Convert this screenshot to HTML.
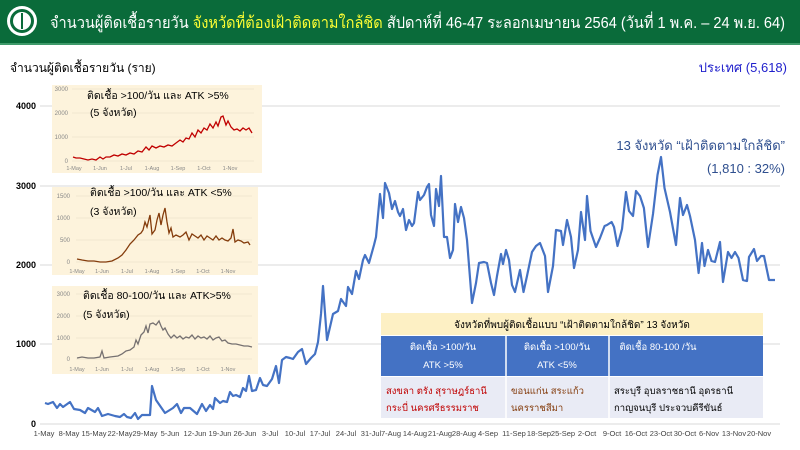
<!DOCTYPE html>
<html><head><meta charset="utf-8"><style>
body{margin:0;width:800px;height:450px;overflow:hidden;background:#fff;font-family:"Liberation Sans","Noto Sans CJK SC",sans-serif;}
.hdr{position:absolute;left:0;top:0;width:800px;height:43px;background:#0a6b3a;border-bottom:2px solid #3f9a6a;}
</style></head><body>
<div class="hdr"></div>
<svg style="position:absolute;left:0;top:0" width="800" height="450" font-family="Liberation Sans, Noto Sans CJK SC, sans-serif">
<circle cx="22" cy="21" r="15" fill="#fff"/><circle cx="22" cy="21" r="12" fill="#0a6b3a"/><circle cx="22" cy="21" r="9" fill="#fff"/>
<line x1="22" y1="13" x2="22" y2="29" stroke="#0a6b3a" stroke-width="2"/>
<text x="50" y="28" font-size="16" fill="#fff" textLength="735" lengthAdjust="spacingAndGlyphs">จำนวนผู้ติดเชื้อรายวัน <tspan fill="#ffff33">จังหวัดที่ต้องเฝ้าติดตามใกล้ชิด</tspan> สัปดาห์ที่ 46-47 ระลอกเมษายน 2564 (วันที่ 1 พ.ค. – 24 พ.ย. 64)</text>
<text x="10" y="72" font-size="12" fill="#000">จำนวนผู้ติดเชื้อรายวัน (ราย)</text>
<text x="787" y="72" font-size="13" fill="#1f1fcc" text-anchor="end">ประเทศ (5,618)</text>
<g stroke="#d9d9d9" stroke-width="1">
<line x1="40" y1="106" x2="780" y2="106"/><line x1="40" y1="186" x2="780" y2="186"/><line x1="40" y1="265" x2="780" y2="265"/><line x1="40" y1="344" x2="780" y2="344"/><line x1="40" y1="424" x2="780" y2="424"/>
</g>
<g font-size="9" font-weight="bold" text-anchor="end" fill="#000">
<text x="36" y="109">4000</text><text x="36" y="189">3000</text><text x="36" y="268">2000</text><text x="36" y="347">1000</text><text x="36" y="427">0</text>
</g>
<g font-size="7.5" fill="#444" text-anchor="middle">
<text x="44" y="436">1-May</text><text x="69" y="436">8-May</text><text x="94" y="436">15-May</text><text x="120" y="436">22-May</text><text x="145" y="436">29-May</text><text x="170" y="436">5-Jun</text><text x="195" y="436">12-Jun</text><text x="220" y="436">19-Jun</text><text x="245" y="436">26-Jun</text><text x="270" y="436">3-Jul</text><text x="295" y="436">10-Jul</text><text x="320" y="436">17-Jul</text><text x="346" y="436">24-Jul</text><text x="371" y="436">31-Jul</text><text x="391" y="436">7-Aug</text><text x="415" y="436">14-Aug</text><text x="440" y="436">21-Aug</text><text x="464" y="436">28-Aug</text><text x="488" y="436">4-Sep</text><text x="514" y="436">11-Sep</text><text x="539" y="436">18-Sep</text><text x="563" y="436">25-Sep</text><text x="587" y="436">2-Oct</text><text x="612" y="436">9-Oct</text><text x="636" y="436">16-Oct</text><text x="661" y="436">23-Oct</text><text x="685" y="436">30-Oct</text><text x="709" y="436">6-Nov</text><text x="734" y="436">13-Nov</text><text x="759" y="436">20-Nov</text>
</g>
<polyline fill="none" stroke="#4472c4" stroke-width="2.2" stroke-linejoin="round" points="45,403 48,404 53,402 57,408 60,404 63,407 70,402 74,409 80,410 85,413 88,408 95,412 98,408 102,416 108,414 115,416 120,417 124,414 127,417 131,418 135,413 138,419 142,415 150,415 152,386 156,400 165,413 173,408 177,404 181,413 184,408 190,408 197,414 202,404 206,411 210,405 213,409 215,398 220,403 223,401 227,402 230,392 233,396 236,395 240,397 243,388 246,391 249,376 252,391 256,390 260,378 263,385 267,386 272,379 276,366 279,383 282,360 286,357 290,358 293,359 298,352 302,349 306,364 311,358 315,354 318,342 321,314 323,286 327,340 333,314 338,311 341,299 346,306 348,287 352,294 356,271 359,279 363,260 365,255 369,263 374,245 376,237 380,194 383,218 385,183 389,193 392,209 395,201 398,212 400,216 403,209 406,230 409,220 412,226 414,223 418,192 420,200 424,195 427,187 429,184 431,215 434,226 436,189 439,206 441,176 444,237 447,237 450,258 453,250 455,204 458,222 461,207 464,218 467,240 472,303 476,283 479,263 484,262 487,263 491,283 494,295 497,276 501,254 503,264 506,250 509,260 512,285 515,292 520,270 523.5,292 527,276 532,252 536,246 540,243 545,256 548,292 553,266 556,230 561,231 563,245 567,220 571,237 574,268 578,250 581,212 585,240 587,196 590.5,231 596,247 600,238 604.6,226 607,225 611.6,222 614,227 617.5,246 622,229 626,192 629,211 633,216 636,191 640,196 643.9,208 648,247 653,214 657.5,175 661,157 664.5,188 670,212 676,245 680,198 683,215 687,205 690,216 695,240 698.6,273 702,243 704.5,266 708,250 711.5,261 715,262 720,242 723,282 728,252 731.5,258 735,252 738.5,258 743,280 747,281 749,257 754,249 757,261 761,256 764,256 769,280 775,280"/>
<text x="785" y="150" font-size="13" fill="#2f4f8f" text-anchor="end">13 จังหวัด “เฝ้าติดตามใกล้ชิด”</text>
<text x="785" y="173" font-size="13" fill="#2f4f8f" text-anchor="end">(1,810 : 32%)</text>

<rect x="52" y="85" width="210" height="88" fill="#fdf3dc"/>
<rect x="52" y="187" width="206" height="88" fill="#fdf3dc"/>
<rect x="52" y="286" width="206" height="88" fill="#fdf3dc"/>
<g stroke="#e6dcc6" stroke-width="0.6">
<line x1="72" y1="89" x2="254" y2="89"/><line x1="72" y1="113" x2="254" y2="113"/><line x1="72" y1="137" x2="254" y2="137"/><line x1="72" y1="161" x2="254" y2="161"/>
<line x1="76" y1="196" x2="252" y2="196"/><line x1="76" y1="218" x2="252" y2="218"/><line x1="76" y1="240" x2="252" y2="240"/><line x1="76" y1="262" x2="252" y2="262"/>
<line x1="76" y1="294" x2="252" y2="294"/><line x1="76" y1="316" x2="252" y2="316"/><line x1="76" y1="338" x2="252" y2="338"/><line x1="76" y1="359" x2="252" y2="359"/>
</g>
<g font-size="6" fill="#888" text-anchor="end">
<text x="68" y="91">3000</text><text x="68" y="115">2000</text><text x="68" y="139">1000</text><text x="68" y="163">0</text>
<text x="70" y="198">1500</text><text x="70" y="220">1000</text><text x="70" y="242">500</text><text x="70" y="264">0</text>
<text x="70" y="296">3000</text><text x="70" y="318">2000</text><text x="70" y="340">1000</text><text x="70" y="361">0</text>
</g>
<g font-size="5.5" fill="#888" text-anchor="middle">
<text x="74" y="170">1-May</text><text x="100" y="170">1-Jun</text><text x="126" y="170">1-Jul</text><text x="152" y="170">1-Aug</text><text x="178" y="170">1-Sep</text><text x="204" y="170">1-Oct</text><text x="230" y="170">1-Nov</text>
<text x="77" y="273">1-May</text><text x="102" y="273">1-Jun</text><text x="127" y="273">1-Jul</text><text x="152" y="273">1-Aug</text><text x="178" y="273">1-Sep</text><text x="203" y="273">1-Oct</text><text x="228" y="273">1-Nov</text>
<text x="77" y="371">1-May</text><text x="102" y="371">1-Jun</text><text x="127" y="371">1-Jul</text><text x="152" y="371">1-Aug</text><text x="178" y="371">1-Sep</text><text x="203" y="371">1-Oct</text><text x="228" y="371">1-Nov</text>
</g>
<polyline fill="none" stroke="#c00000" stroke-width="1.3" points="73,157 76,158 80,158 84,159 88,160 92,159 96,160 100,157 103,159 106,157 110,157 114,155 118,156 122,154 126,155 130,153 134,154 138,151 142,152 146,147 149,150 152,146 156,148 160,146 164,147 168,145 172,146 176,143 180,140 183,142 186,138 189,139 192,133 195,137 198,130 201,133 204,128 207,130 210,124 213,128 216,122 218,126 221,117 223,116 226,125 228,121 231,127 234,130 237,129 240,131 243,128 246,130 249,128 252,133"/>
<polyline fill="none" stroke="#843c0c" stroke-width="1.3" points="77,259 82,260 88,261 94,261 100,262 106,262 112,261 118,258 122,255 126,250 130,244 134,240 138,235 141,233 143,230 145,222 147,227 150,215 152,234 155,230 157,220 159,213 161,225 163,215 165,208 167,222 169,233 171,228 173,237 176,235 180,237 183,235 186,232 189,240 192,234 195,236 198,238 201,235 204,240 207,236 210,238 213,240 216,236 219,240 222,238 225,240 228,241 231,238 233,229 235,242 238,240 241,241 244,243 248,242 250,245"/>
<polyline fill="none" stroke="#767171" stroke-width="1.3" points="77,358 82,357 88,358 94,358 100,357 102,351 104,358 110,357 118,356 122,354 126,351 130,350 134,347 136,340 138,344 141,335 144,332 146,326 148,333 150,324 153,323 156,325 159,321 161,326 163,330 165,328 168,334 171,338 174,335 177,338 180,336 183,339 186,337 189,338 192,335 195,339 198,336 201,338 204,337 207,339 210,336 213,340 216,338 219,337 222,341 225,340 228,343 232,344 236,344 240,345 244,346 248,346 252,347"/>
<g font-size="10.5" fill="#000">
<text x="87" y="99">ติดเชื้อ &gt;100/วัน และ ATK &gt;5%</text><text x="90" y="116">(5 จังหวัด)</text>
<text x="90" y="196">ติดเชื้อ &gt;100/วัน และ ATK &lt;5%</text><text x="90" y="215">(3 จังหวัด)</text>
<text x="83" y="299">ติดเชื้อ 80-100/วัน และ ATK&gt;5%</text><text x="83" y="318">(5 จังหวัด)</text>
</g>
<rect x="381" y="313" width="382" height="22" fill="#fdf0c4"/>
<text x="572" y="328" font-size="10" fill="#000" text-anchor="middle">จังหวัดที่พบผู้ติดเชื้อแบบ “เฝ้าติดตามใกล้ชิด” 13 จังหวัด</text>
<rect x="381" y="336" width="382" height="40" fill="#4472c4"/>
<rect x="381" y="377" width="382" height="41" fill="#e9ebf5"/>
<line x1="506" y1="336" x2="506" y2="418" stroke="#fff" stroke-width="1.5"/>
<line x1="609" y1="336" x2="609" y2="418" stroke="#fff" stroke-width="1.5"/>
<g font-size="9.5" fill="#fff" text-anchor="middle">
<text x="443" y="350">ติดเชื้อ &gt;100/วัน</text><text x="443" y="368">ATK &gt;5%</text>
<text x="557" y="350">ติดเชื้อ &gt;100/วัน</text><text x="557" y="368">ATK &lt;5%</text>
<text x="658" y="350">ติดเชื้อ 80-100 /วัน</text>
</g>
<g font-size="9.5">
<text x="386" y="394" fill="#c00000">สงขลา ตรัง สุราษฎร์ธานี</text><text x="386" y="411" fill="#c00000">กระบี่ นครศรีธรรมราช</text>
<text x="511" y="394" fill="#843c0c">ขอนแก่น สระแก้ว</text><text x="511" y="411" fill="#843c0c">นครราชสีมา</text>
<text x="614" y="394" fill="#000">สระบุรี อุบลราชธานี อุดรธานี</text><text x="614" y="411" fill="#000">กาญจนบุรี ประจวบคีรีขันธ์</text>
</g>
</svg>
</body></html>
